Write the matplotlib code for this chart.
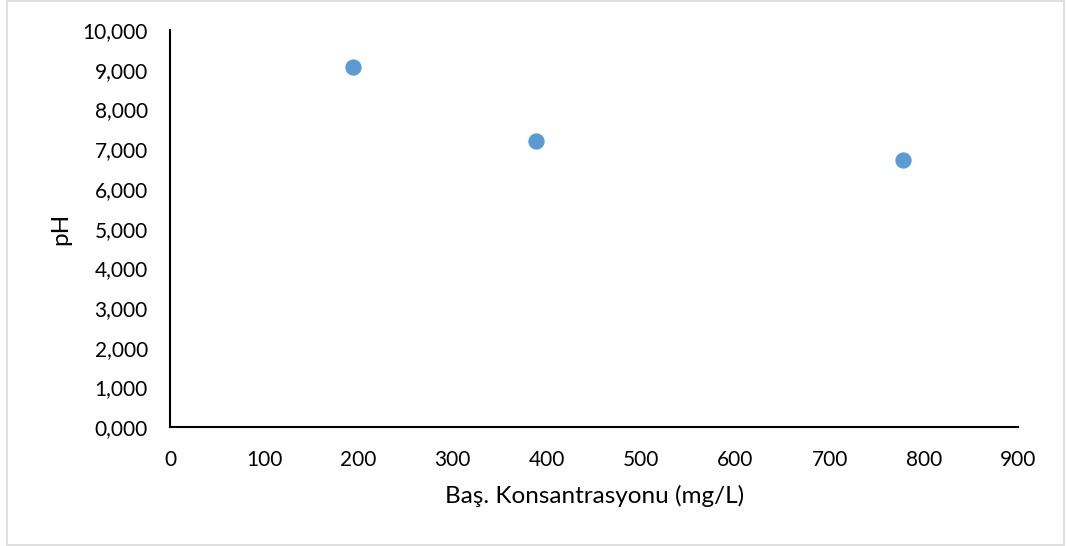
import matplotlib
matplotlib.use("Agg")
import matplotlib.pyplot as plt
from matplotlib.patches import Rectangle
from matplotlib.ticker import FuncFormatter, MultipleLocator

# Başlangıç konsantrasyonu (mg/L) ve ölçülen pH
konsantrasyon = [194.4, 388.8, 777.6]
ph_degerleri = [9.08, 7.21, 6.73]

x_ticks = [0, 100, 200, 300, 400, 500, 600, 700, 800, 900]

plt.rcParams["font.family"] = ["Lato", "DejaVu Sans"]

fig = plt.figure(figsize=(10.66, 5.46), dpi=100)
ax = fig.add_axes([170 / 1066, 1 - 427.3 / 546, (1018.3 - 170) / 1066, (427.3 - 30) / 546])

ax.scatter(konsantrasyon, ph_degerleri, s=115, color="#5B9BD5", zorder=3, clip_on=False)

ax.set_xlim(0, 900)
ax.set_ylim(0, 10)
ax.set_xticks(x_ticks)
ax.yaxis.set_major_locator(MultipleLocator(1))
ax.yaxis.set_major_formatter(FuncFormatter(lambda v, p: f"{v:.3f}".replace(".", ",")))

for side in ("top", "right"):
    ax.spines[side].set_visible(False)
for side in ("left", "bottom"):
    ax.spines[side].set_linewidth(1.5)
    ax.spines[side].set_color("black")

ax.tick_params(axis="both", length=0, labelsize=15, colors="black")
ax.tick_params(axis="y", pad=16)
ax.tick_params(axis="x", pad=16)

ax.set_xlabel("Baş. Konsantrasyonu (mg/L)", fontsize=17.5, labelpad=11)
ax.set_ylabel("pH", fontsize=17.5, labelpad=8)

# çerçeve
fig.patches.append(Rectangle((7 / 1066, 1 / 546), 1057 / 1066, 544 / 546, transform=fig.transFigure,
                             fill=False, edgecolor="#D9D9D9", linewidth=1.2))

fig.savefig("out.png", dpi=100)
